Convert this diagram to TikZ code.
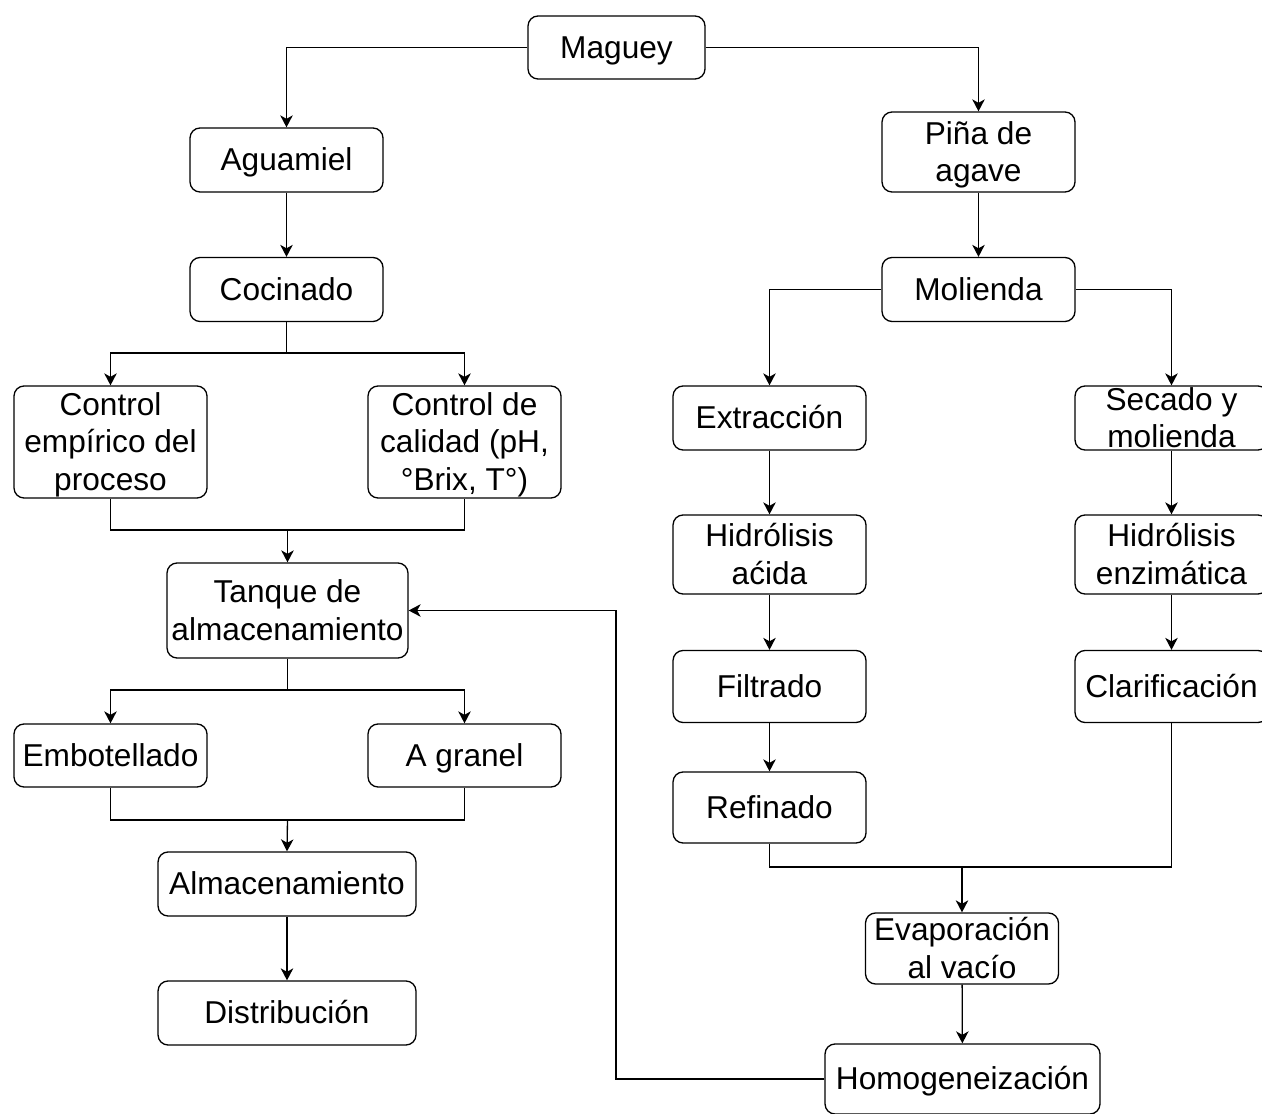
\documentclass[tikz,border=0pt]{standalone}
\usepackage{fontspec}
\setmainfont{Liberation Sans}
\usepackage{tikz}
\usetikzlibrary{arrows.meta}

\begin{document}
\begin{tikzpicture}[x=0.02cm, y=-0.02cm, line width=0.75pt,
            caja/.style={draw, rounded corners=0.2cm, align=center, inner sep=0pt,
                minimum width=3.86cm, minimum height=1.28cm,
                font=\fontsize{18}{21.6}\selectfont,
                execute at begin node={\vrule height 0.905em depth 0pt width 0pt},
                execute at end node={\vrule height 0pt depth 0.212em width 0pt}},
            dos/.style={text height=34.1pt, text depth=0pt},
            tres/.style={text height=55.7pt, text depth=0pt},
            flecha/.style={-{Stealth[length=0.24cm, width=0.25cm, inset=0.07cm]}}]
            \useasboundingbox (0,0) rectangle (1262,1114);
            \node[caja, minimum width=3.54cm, minimum height=1.26cm] (maguey) at (616.5,47.5) {Maguey};
            \node[caja] (aguamiel) at (286.5,160) {Aguamiel};
            \node[caja, dos, minimum height=1.6cm] (pina) at (978.5,152) {Piña de\\agave};
            \node[caja] (cocinado) at (286.5,289.5) {Cocinado};
            \node[caja] (molienda) at (978.5,289.5) {Molienda};
            \node[caja, tres, minimum height=2.24cm] (empirico) at (110.5,442) {Control\\empírico del\\proceso};
            \node[caja, tres, minimum height=2.24cm] (calidad) at (464.5,442) {Control de\\calidad (pH,\\°Brix, T°)};
            \node[caja] (extraccion) at (769.5,418) {Extracción};
            \node[caja, dos] (secado) at (1171.5,418) {Secado y\\molienda};
            \node[caja, dos, minimum width=4.82cm, minimum height=1.9cm] (tanque) at (287.5,610.5) {Tanque de\\almacenamiento};
            \node[caja, dos, minimum height=1.58cm] (acida) at (769.5,554.5) {Hidrólisis\\aćida};
            \node[caja, dos, minimum height=1.58cm] (enzimatica) at (1171.5,554.5) {Hidrólisis\\enzimática};
            \node[caja, minimum height=1.26cm] (embotellado) at (110.5,755.5) {Embotellado};
            \node[caja, minimum height=1.26cm] (granel) at (464.5,755.5) {A granel};
            \node[caja, minimum height=1.44cm] (filtrado) at (769.5,686.5) {Filtrado};
            \node[caja, minimum height=1.44cm] (clarificacion) at (1171.5,686.5) {Clarificación};
            \node[caja, minimum height=1.42cm] (refinado) at (769.5,807.5) {Refinado};
            \node[caja, minimum width=5.16cm] (almacen) at (287,884) {Almacenamiento};
            \node[caja, minimum width=5.16cm] (distribucion) at (287,1013) {Distribución};
            \node[caja, dos, minimum height=1.42cm] (evaporacion) at (962,948.5) {Evaporación\\al vacío};
            \node[caja, minimum width=5.5cm, minimum height=1.4cm] (homog) at (962.5,1079) {Homogeneización};

            \coordinate (cocsplit) at (286.5,353);
            \coordinate (ctrljoin) at (287.5,530);
            \coordinate (tanqsplit) at (287.5,690);
            \coordinate (envjoin) at (287.5,820);
            \coordinate (refjoin) at (962,867);
            \coordinate (retorno) at (616,1079);

            \draw[flecha] (maguey.west) -| (aguamiel.north);
            \draw[flecha] (maguey.east) -| (pina.north);
            \draw[flecha] (aguamiel) -- (cocinado);
            \draw[flecha] (cocinado.south) -- (cocsplit) -| (empirico.north);
            \draw[flecha] (cocsplit) -| (calidad.north);
            \draw (empirico.south) |- (ctrljoin) -| (calidad.south);
            \draw[flecha] (ctrljoin) -- (tanque.north);
            \draw[flecha] (tanque.south) -- (tanqsplit) -| (embotellado.north);
            \draw[flecha] (tanqsplit) -| (granel.north);
            \draw (embotellado.south) |- (envjoin) -| (granel.south);
            \draw[flecha] (envjoin) -- (almacen.north);
            \draw[flecha] (almacen) -- (distribucion);

            \draw[flecha] (pina) -- (molienda);
            \draw[flecha] (molienda.west) -| (extraccion.north);
            \draw[flecha] (molienda.east) -| (secado.north);
            \draw[flecha] (extraccion) -- (acida);
            \draw[flecha] (acida) -- (filtrado);
            \draw[flecha] (filtrado) -- (refinado);
            \draw[flecha] (secado) -- (enzimatica);
            \draw[flecha] (enzimatica) -- (clarificacion);
            \draw (refinado.south) |- (refjoin) -| (clarificacion.south);
            \draw[flecha] (refjoin) -- (evaporacion.north);
            \draw[flecha] (evaporacion) -- (homog);
            \draw[flecha] (homog.west) -- (retorno) |- (tanque.east);
\end{tikzpicture}
\end{document}
